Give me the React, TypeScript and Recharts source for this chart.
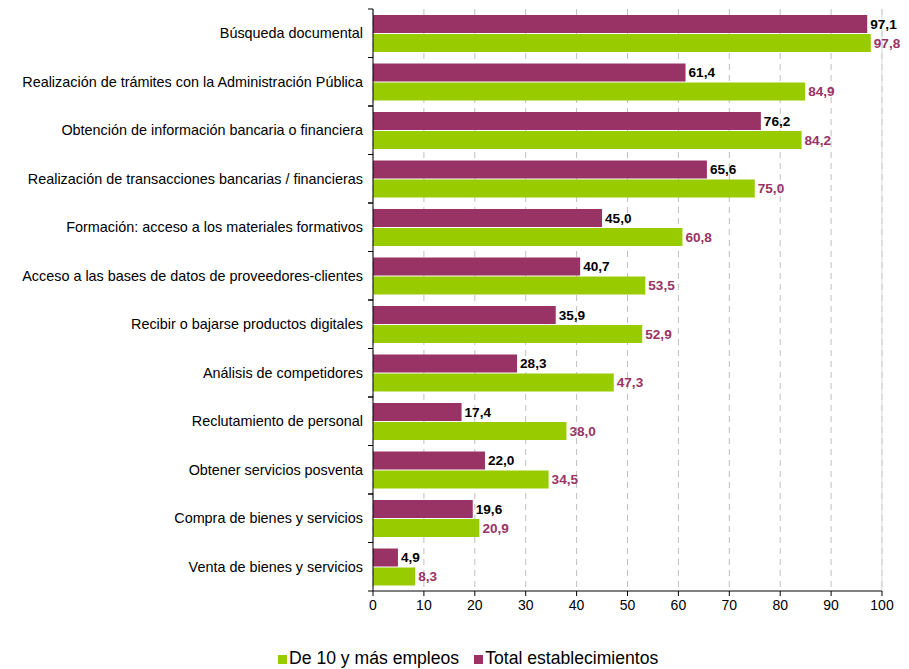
import {
  BarChart,
  Bar,
  XAxis,
  YAxis,
  CartesianGrid,
  LabelList,
  ReferenceLine,
} from 'recharts';

const categories = [
  'Búsqueda documental',
  'Realización de trámites con la Administración Pública',
  'Obtención de información bancaria o financiera',
  'Realización de transacciones bancarias / financieras',
  'Formación: acceso a los materiales formativos',
  'Acceso a las bases de datos de proveedores-clientes',
  'Recibir o bajarse productos digitales',
  'Análisis de competidores',
  'Reclutamiento de personal',
  'Obtener servicios posventa',
  'Compra de bienes y servicios',
  'Venta de bienes y servicios',
];

const totalValues = [97.1, 61.4, 76.2, 65.6, 45.0, 40.7, 35.9, 28.3, 17.4, 22.0, 19.6, 4.9];
const de10Values = [97.8, 84.9, 84.2, 75.0, 60.8, 53.5, 52.9, 47.3, 38.0, 34.5, 20.9, 8.3];

const xTicks = [0, 10, 20, 30, 40, 50, 60, 70, 80, 90, 100];

const data = categories.map((name, i) => ({
  name,
  total: totalValues[i],
  de10: de10Values[i],
}));

const PURPLE = '#993366';
const GREEN = '#99CC00';
const FONT = '"Liberation Sans", Arial, sans-serif';

const TICK_SIZE = 6;
const TICK_MARGIN = 4;

const fmt = (v: any) => Number(v).toFixed(1).replace('.', ',');

// category label plus the small tick marks at the band edges
function CategoryTick(props: any) {
  const { x, y, payload } = props;
  const half = payload?.offset ?? 0;
  const axisX = x + TICK_SIZE + TICK_MARGIN;
  return (
    <g>
      <line x1={axisX - 5} x2={axisX} y1={y - half} y2={y - half} stroke="#000" />
      <line x1={axisX - 5} x2={axisX} y1={y + half} y2={y + half} stroke="#000" />
      <text
        x={x}
        y={y}
        dy={5}
        textAnchor="end"
        fontSize={14.4}
        fill="#000"
        fontFamily={FONT}
      >
        {payload.value}
      </text>
    </g>
  );
}

export default function App() {
  return (
    <div style={{ position: 'relative', width: 893, height: 661, fontFamily: FONT }}>
      <BarChart
        width={893}
        height={620}
        data={data}
        layout="vertical"
        margin={{ top: 1, right: 19, left: 0, bottom: 7 }}
        barGap={1}
      >
        <CartesianGrid
          horizontal={false}
          vertical={true}
          stroke="#BFBFBF"
          strokeDasharray="6 5"
        />
        <XAxis
          type="number"
          domain={[0, 100]}
          ticks={xTicks}
          interval={0}
          height={30}
          tickSize={5}
          tickMargin={4}
          tick={{ fontSize: 14, fill: '#000' }}
          tickLine={{ stroke: '#000' }}
          axisLine={{ stroke: '#808080', strokeWidth: 2 }}
        />
        <XAxis
          xAxisId="top"
          orientation="top"
          type="number"
          domain={[0, 100]}
          height={0}
          tick={false}
          tickLine={false}
          axisLine={{ stroke: '#D9D9D9' }}
        />
        <YAxis
          type="category"
          dataKey="name"
          width={365}
          tickSize={TICK_SIZE}
          tickMargin={TICK_MARGIN}
          tickLine={false}
          axisLine={{ stroke: '#000' }}
          tick={<CategoryTick />}
          interval={0}
        />
        <ReferenceLine x={100} stroke="#D9D9D9" />
        <Bar dataKey="total" fill={PURPLE} barSize={18} isAnimationActive={false}>
          <LabelList
            dataKey="total"
            position="right"
            offset={3}
            formatter={fmt}
            fill="#000"
            fontSize={13.6}
            fontWeight="bold"
          />
        </Bar>
        <Bar dataKey="de10" fill={GREEN} barSize={18} isAnimationActive={false}>
          <LabelList
            dataKey="de10"
            position="right"
            offset={3}
            formatter={fmt}
            fill={PURPLE}
            fontSize={13.6}
            fontWeight="bold"
          />
        </Bar>
      </BarChart>
      <div
        style={{
          position: 'absolute',
          left: 270,
          top: 641,
          fontSize: 17.6,
          lineHeight: '18px',
          whiteSpace: 'nowrap',
          color: '#000',
        }}
      >
        <span style={{ display: 'inline-block', width: 9, height: 9, background: GREEN, marginRight: 2 }} />
        De 10 y más empleos
        <span
          style={{ display: 'inline-block', width: 9, height: 9, background: PURPLE, marginLeft: 15, marginRight: 2 }}
        />
        Total establecimientos
      </div>
    </div>
  );
}
